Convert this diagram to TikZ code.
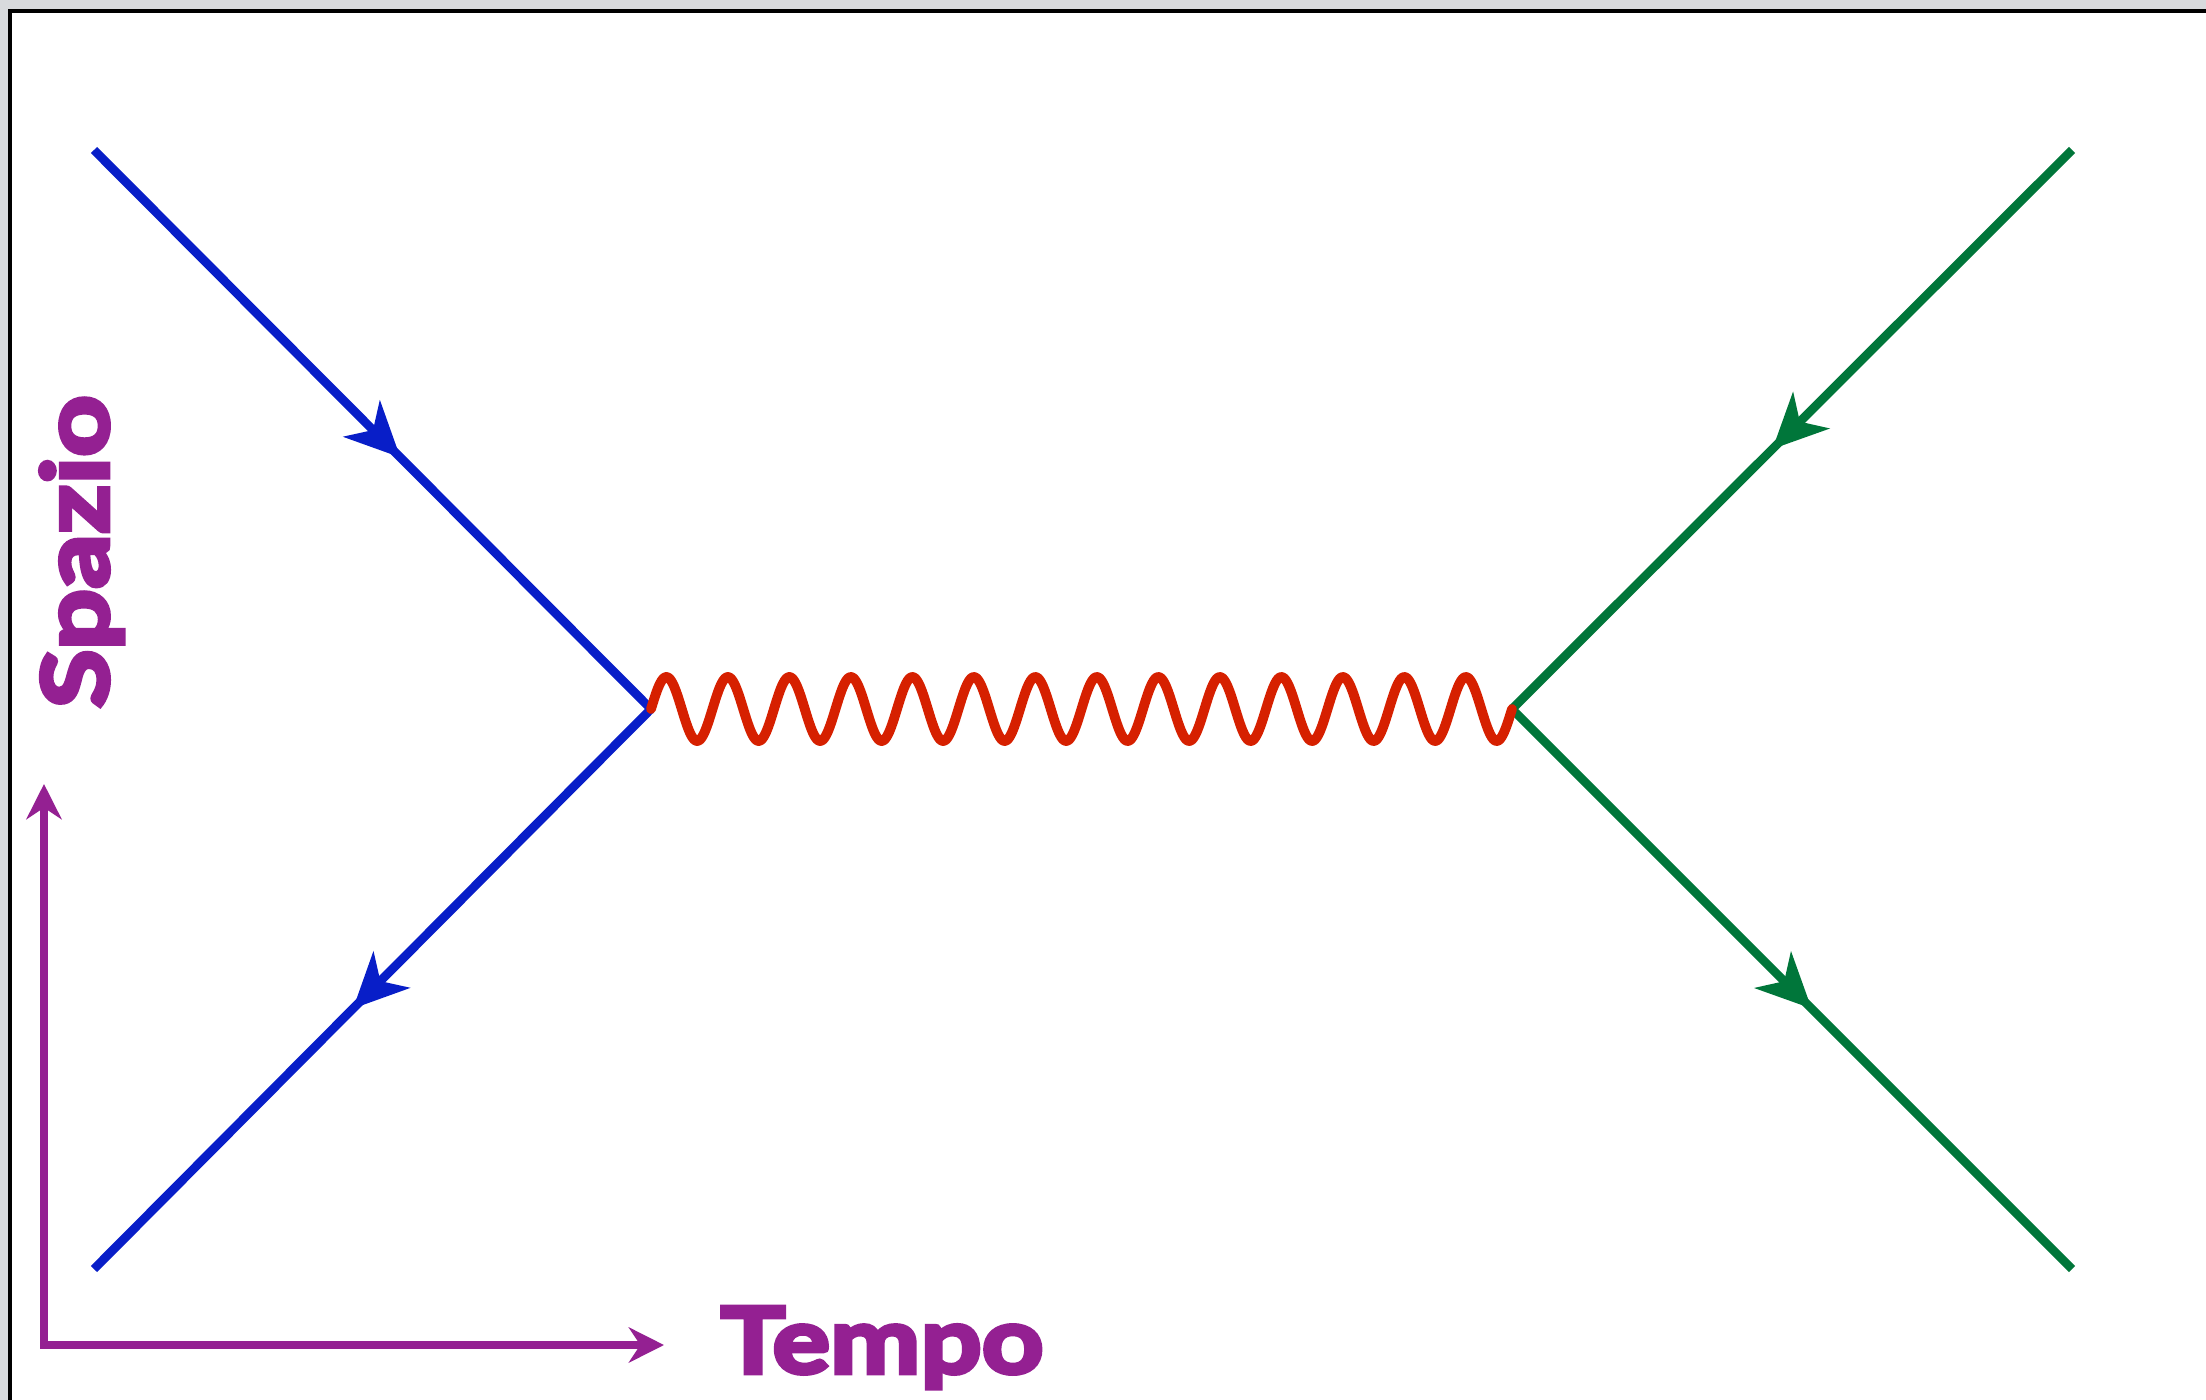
\documentclass[tikz,border=0pt]{standalone}
\usepackage{fontspec}
\setmainfont{Lato}
\newfontfamily\labelfont{Lato}[BoldFeatures={FakeBold=5,FakeStretch=1.18}]
\usepackage{tikz}
\usetikzlibrary{arrows.meta,positioning,decorations.markings}

\definecolor{quarkblue}{RGB}{8,30,200}
\definecolor{quarkgreen}{RGB}{0,118,58}
\definecolor{photonred}{RGB}{214,32,0}
\definecolor{axispurple}{RGB}{148,32,146}
\definecolor{framegray}{RGB}{216,218,221}

\begin{document}
\begin{tikzpicture}[x=0.01cm,y=-0.01cm,
  fermion/.style={line width=2.5pt,postaction={decorate},
    decoration={markings,mark=at position #1 with {\arrow{Stealth[length=15.5pt,width=14.5pt,inset=4.5pt]}}}},
  fermion/.default=0.535,
  photon/.style={photonred,line width=2.8pt,line cap=round,line join=round},
  axis/.style={axispurple,line width=2.1pt,
    {Stealth[length=10pt,width=10pt]}-{Stealth[length=10pt,width=10pt]}},
  axislabel/.style={axispurple,inner sep=0pt,font=\labelfont\bfseries\fontsize{26}{28}\selectfont}]
  \useasboundingbox (0,0) rectangle (2206,1400);
  % window frame
  \fill[framegray] (0,0) rectangle (2206,1400);
  \fill[white] (10,11) rectangle (2206,1400);
  \draw[line width=0.9pt] (10,1400) -- (10,11) -- (2206,11);

  % vertices and external legs
  \coordinate (lv) at (651,709);
  \coordinate (rv) at (1512,709);
  \coordinate (inA) at (94,150);
  \coordinate (outA) at (94,1269);
  \coordinate (inB) at (2072,150);
  \coordinate (outB) at (2072,1269);

  \draw[fermion=0.55,quarkblue] (inA) -- (lv);
  \draw[fermion,quarkblue] (lv) -- (outA);
  \draw[fermion,quarkgreen] (inB) -- (rv);
  \draw[fermion,quarkgreen] (rv) -- (outB);
  % exchanged photon, 14 periods from lv to rv
  \draw[photon] (lv) -- plot[domain=0:1,samples=560]
    ({651+861*\x},{709-32*sin(14*360*\x)}) -- (rv);

  % axes
  \coordinate (origin) at (44,1345);
  \coordinate (spaceEnd) at (44,784);
  \coordinate (timeEnd) at (664,1345);
  \draw[axis] (spaceEnd) -- (origin) -- (timeEnd);
  \node[axislabel,anchor=base west] (tempo) at (720,1373) {Tempo};
  \node[axislabel,rotate=90,anchor=base west] (spazio) at (108,709) {Spazio};
\end{tikzpicture}
\end{document}
